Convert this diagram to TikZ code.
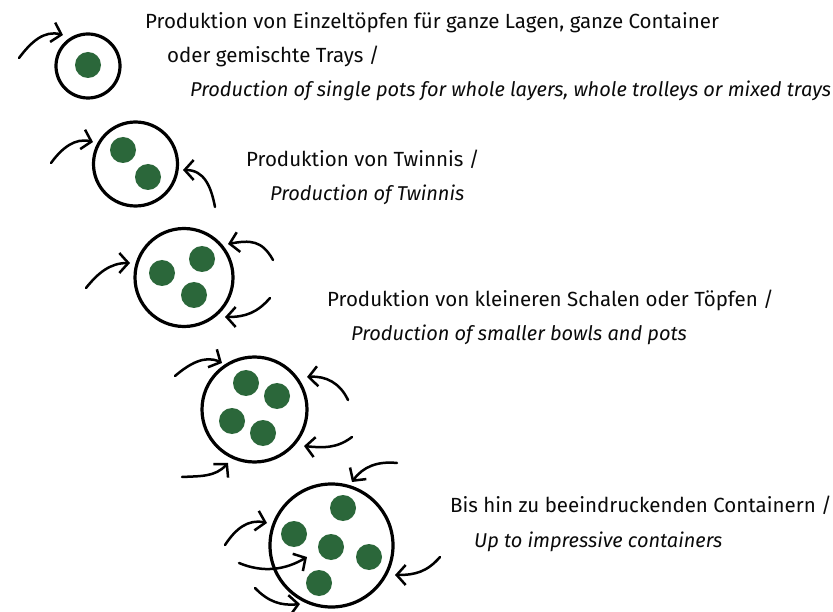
\documentclass[tikz,border=0pt]{standalone}
\usepackage{fontspec}
\setmainfont{Fira Sans}
\usetikzlibrary{arrows.meta}
\definecolor{dotgreen}{HTML}{2B673A}
\definecolor{txt}{HTML}{0A0A0A}
\begin{document}
\begin{tikzpicture}[x=1pt,y=-1pt,
  pot/.style={draw=black,line width=3.2pt,fill=white},
  potdot/.style={fill=dotgreen,draw=none},
  turn/.style={line width=2.5pt,line cap=round,-{Straight Barb[length=9pt,width=20pt,line width=2.5pt]}},
  lbl/.style={anchor=base west,inner sep=0pt,text=txt,font=\fontsize{20.5}{24}\selectfont},
  lbli/.style={lbl,font=\fontsize{20}{24}\selectfont\itshape}]
\useasboundingbox (0,0) rectangle (833,612);
% pots
\node[pot,circle,minimum size=64pt,inner sep=0pt] (p1) at (88,66) {};
\node[pot,circle,minimum size=84pt,inner sep=0pt] (p2) at (135.5,164) {};
\node[pot,circle,minimum size=98pt,inner sep=0pt] (p3) at (184,277.5) {};
\node[pot,circle,minimum size=105pt,inner sep=0pt] (p4) at (254.5,409.5) {};
\node[pot,circle,minimum size=123pt,inner sep=0pt] (p5) at (331.5,545.5) {};
% dots
\foreach \n/\x/\y in {d11/88/65, d21/123/150, d22/148/177,
  d31/162/273, d32/202/259, d33/194/295,
  d41/246/383, d42/277/396, d43/232/421, d44/263/433,
  d51/343/508, d52/294/534, d53/331/547, d54/369/557, d55/319/583}
  \node[potdot,circle,minimum size=26pt,inner sep=0pt] (\n) at (\x,\y) {};
% arrows
\coordinate (a1s) at (19,58);  \coordinate (a1e) at (63,35);
\draw[turn] (a1s) .. controls (31,42) and (44,30) .. (a1e);
\coordinate (a2s) at (51,163); \coordinate (a2e) at (93,142);
\draw[turn] (a2s) .. controls (62,148) and (75,137.5) .. (a2e);
\coordinate (a3s) at (215,207); \coordinate (a3e) at (183,170);
\draw[turn] (a3s) .. controls (211,186) and (204,170) .. (a3e);
\coordinate (a4s) at (86,288); \coordinate (a4e) at (130,263);
\draw[turn] (a4s) .. controls (98,273) and (110,263) .. (a4e);
\coordinate (a5s) at (273,260); \coordinate (a5e) at (228,244);
\draw[turn] (a5s) .. controls (262,240) and (250,240) .. (a5e);
\coordinate (a6s) at (270,298); \coordinate (a6e) at (225,317);
\draw[turn] (a6s) .. controls (257,313) and (245,317) .. (a6e);
\coordinate (a7s) at (175,376); \coordinate (a7e) at (222,363);
\draw[turn] (a7s) .. controls (189,364) and (205,354.6) .. (a7e);
\coordinate (a8s) at (348,400); \coordinate (a8e) at (307,377);
\draw[turn] (a8s) .. controls (340,383) and (326,375.7) .. (a8e);
\coordinate (a9s) at (352,437); \coordinate (a9e) at (304,446);
\draw[turn] (a9s) .. controls (337,448.5) and (323,448) .. (a9e);
\coordinate (a10s) at (182,477); \coordinate (a10e) at (228,463);
\draw[turn] (a10s) .. controls (201,476) and (215,477) .. (a10e);
\coordinate (a11s) at (397,463); \coordinate (a11e) at (352,482);
\draw[turn] (a11s) .. controls (378,461) and (363,466.5) .. (a11e);
\coordinate (a12s) at (225,545); \coordinate (a12e) at (267,523);
\draw[turn] (a12s) .. controls (235.5,529) and (248,518.7) .. (a12e);
\coordinate (a13s) at (239,563); \coordinate (a13e) at (307,557);
\draw[turn] (a13s) .. controls (263,573) and (285,570) .. (a13e);
\coordinate (a14s) at (255,588); \coordinate (a14e) at (300,604);
\draw[turn] (a14s) .. controls (268,601.6) and (281,606) .. (a14e);
\coordinate (a15s) at (440,557); \coordinate (a15e) at (395,575);
\draw[turn] (a15s) .. controls (427,572) and (415,575) .. (a15e);
% labels
\node[lbl] (t1a) at (145,29) {Produktion von Einzeltöpfen für ganze Lagen, ganze Container};
\node[lbl] (t1b) at (167,63) {oder gemischte Trays /};
\node[lbli] (t1c) at (190,97) {Production of single pots for whole layers, whole trolleys or mixed trays};
\node[lbl] (t2a) at (246,167) {Produktion von Twinnis /};
\node[lbli] (t2b) at (270,201) {Production of Twinnis};
\node[lbl] (t3a) at (327,307) {Produktion von kleineren Schalen oder Töpfen /};
\node[lbli] (t3b) at (351,341) {Production of smaller bowls and pots};
\node[lbl] (t4a) at (450,512) {Bis hin zu beeindruckenden Containern /};
\node[lbli] (t4b) at (474,547) {Up to impressive containers};
\end{tikzpicture}
\end{document}
